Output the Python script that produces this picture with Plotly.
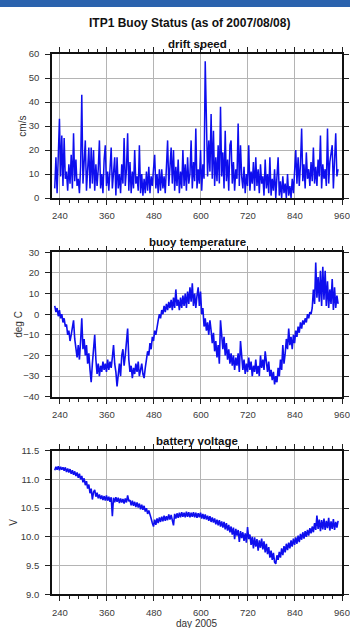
import plotly.graph_objects as go

# ---- data: ITP1 buoy status, sampled every 3 days from day 227 of 2005 ----
day_start = 227
day_step = 3

drift_speed = [
    4, 17, 2, 16, 33, 9, 26, 5, 25, 8,
    11, 3, 14, 6, 18, 4, 27, 7, 16, 5,
    8, 2, 13, 43, 6, 15, 24, 3, 12, 21,
    4, 21, 6, 20, 3, 14, 5, 12, 24, 4,
    10, 2, 16, 22, 5, 11, 3, 13, 21, 4,
    9, 17, 1, 17, 4, 10, 2, 14, 6, 25,
    5, 12, 27, 3, 15, 2, 11, 4, 20, 6,
    9, 3, 22, 2, 10, 1, 8, 2, 11, 3,
    13, 2, 9, 5, 12, 18, 4, 10, 2, 12,
    3, 12, 4, 9, 2, 16, 24, 5, 14, 21,
    6, 20, 3, 13, 5, 16, 2, 11, 4, 20,
    5, 14, 3, 17, 6, 10, 24, 4, 15, 7,
    29, 4, 12, 6, 20, 3, 14, 8, 57, 26,
    9, 24, 11, 35, 8, 28, 5, 17, 7, 22,
    6, 38, 9, 19, 4, 28, 7, 16, 3, 22,
    24, 6, 15, 3, 12, 8, 31, 5, 22, 9,
    4, 13, 2, 10, 5, 22, 3, 11, 6, 15,
    3, 17, 5, 12, 2, 14, 6, 9, 1, 16,
    4, 10, 2, 17, 1, 8, 3, 12, 0, 9,
    17, 1, 7, 0, 9, 2, 6, 0, 10, 1,
    5, 0, 8, 2, 13, 20, 6, 17, 5, 14,
    29, 7, 14, 4, 19, 8, 12, 5, 15, 7,
    21, 6, 13, 5, 16, 9, 26, 4, 14, 8,
    12, 5, 29, 6, 15, 18, 22, 4, 13, 27,
    9, 12,
]

buoy_temperature = [
    4, 1, 3, -1, 2, -2, 0, -4, -2, -6,
    -5, -10, -8, -13, -10, -7, -3, -12, -17, -21,
    -15, -22, -13, -2, -17, -12, -20, -15, -24, -19,
    -27, -33, -24, -18, -10, -22, -29, -24, -30, -25,
    -28, -23, -27, -24, -28, -22, -27, -23, -26, -21,
    -15, -24, -28, -35, -29, -24, -30, -20, -17, -25,
    -20, -12, -7, -22, -28, -25, -31, -26, -29, -24,
    -28, -23, -30, -27, -24, -29, -31, -26, -22, -18,
    -20, -14, -17, -11, -13, -8, -10, -5, -3, 0,
    -2, 2, 0, 4, 1, 5, 2, 6, 3, 7,
    2, 8, 3, 12, 4, 7, 2, 8, 3, 9,
    4, 10, 3, 11, 5, 13, 6, 15, 4, 10,
    3, 9, 13, 4, 11, 0, 3, -6, -2, -8,
    -4, -10, -3, -8, -14, -9, -18, -13, -21, -15,
    -24, -3, -12, -17, -11, -20, -14, -22, -17, -24,
    -19, -25, -20, -27, -21, -25, -19, -28, -13, -22,
    -27, -22, -29, -24, -28, -21, -27, -23, -30, -25,
    -28, -22, -29, -25, -30, -20, -26, -22, -27, -18,
    -24, -28, -23, -30, -27, -32, -28, -34, -30, -33,
    -26, -30, -22, -27, -15, -24, -19, -12, -17, -7,
    -15, -11, -17, -10, -14, -8, -11, -6, -9, -4,
    -7, -3, -5, -2, -4, 0, -2, 1, 0, 3,
    12, 5, 25, 8, 18, 6, 21, 4, 23, 7,
    21, 4, 16, 3, 12, 5, 17, 2, 13, 3,
    9, 5,
]

battery_voltage = [
    11.16, 11.22, 11.17, 11.23, 11.16, 11.22, 11.17, 11.21, 11.15, 11.21,
    11.13, 11.19, 11.12, 11.18, 11.10, 11.16, 11.08, 11.14, 11.06, 11.12,
    11.03, 11.10, 11.00, 11.06, 10.95, 11.02, 10.90, 10.97, 10.84, 10.91,
    10.76, 10.84, 10.65, 10.78, 10.82, 10.70, 10.77, 10.67, 10.74, 10.66,
    10.72, 10.64, 10.71, 10.63, 10.72, 10.63, 10.70, 10.61, 10.69, 10.36,
    10.68, 10.60, 10.69, 10.61, 10.68, 10.59, 10.67, 10.60, 10.66, 10.58,
    10.67, 10.60, 10.72, 10.62, 10.64, 10.55, 10.63, 10.54, 10.61, 10.52,
    10.60, 10.51, 10.58, 10.48, 10.56, 10.47, 10.54, 10.44, 10.50, 10.40,
    10.46, 10.36, 10.32, 10.24, 10.18, 10.30, 10.21, 10.32, 10.24, 10.34,
    10.26, 10.35, 10.27, 10.37, 10.28, 10.36, 10.29, 10.39, 10.30, 10.38,
    10.31, 10.20, 10.40, 10.32, 10.41, 10.33, 10.42, 10.34, 10.43, 10.35,
    10.42, 10.34, 10.44, 10.35, 10.43, 10.34, 10.42, 10.35, 10.43, 10.34,
    10.42, 10.33, 10.41, 10.34, 10.42, 10.32, 10.40, 10.31, 10.39, 10.30,
    10.37, 10.28, 10.36, 10.26, 10.34, 10.25, 10.32, 10.22, 10.30, 10.20,
    10.29, 10.18, 10.27, 10.16, 10.26, 10.13, 10.24, 10.11, 10.21, 10.08,
    10.18, 10.04, 10.16, 9.96, 10.14, 10.02, 10.12, 9.91, 10.10, 9.98,
    10.08, 9.93, 10.06, 9.90, 10.17, 9.96, 10.04, 9.86, 10.00, 9.80,
    9.99, 9.83, 9.96, 9.76, 9.94, 9.81, 9.97, 9.78, 9.92, 9.73,
    9.88, 9.70, 9.82, 9.64, 9.76, 9.60, 9.72, 9.56, 9.53, 9.68,
    9.60, 9.74, 9.64, 9.80, 9.68, 9.84, 9.73, 9.88, 9.77, 9.90,
    9.80, 9.94, 9.83, 9.97, 9.86, 9.99, 9.88, 10.02, 9.91, 10.05,
    9.95, 10.08, 9.97, 10.10, 10.00, 10.12, 10.02, 10.15, 10.06, 10.18,
    10.08, 10.24, 10.12, 10.37, 10.14, 10.30, 10.10, 10.29, 10.13, 10.32,
    10.12, 10.28, 10.15, 10.33, 10.11, 10.27, 10.14, 10.31, 10.12, 10.26,
    10.16, 10.28,
]

panel_titles = ["drift speed", "buoy temperature", "battery voltage"]
y_titles = ["cm/s", "deg C", "V"]
x_tick_values = [240, 360, 480, 600, 720, 840, 960]

days = [day_start + day_step * i for i in range(len(drift_speed))]

# ---- page geometry (pixels) ----
W, H = 350, 628
ML, MR = 52, 8
PW = W - ML - MR
panels_px = [(54, 198), (252.3, 396.7), (450.7, 594.3)]  # top, bottom of each plot box


def py(px):
    return 1 - px / H


def pxx(px):
    return (px - ML) / PW


LINE = "rgb(14,14,238)"
FONT = "Liberation Sans, Arial, Helvetica, sans-serif"
line_widths = [1.5, 1.6, 1.6]

fig = go.Figure()
series = [drift_speed, buoy_temperature, battery_voltage]
for i, vals in enumerate(series):
    suffix = "" if i == 0 else str(i + 1)
    fig.add_trace(go.Scatter(
        x=days, y=vals, mode="lines",
        line=dict(color=LINE, width=line_widths[i]),
        xaxis="x" + suffix, yaxis="y" + suffix,
        showlegend=False, hoverinfo="skip",
    ))

y_ranges = [[0, 60], [-40, 30], [9.0, 11.5]]
y_dticks = [10, 10, 0.5]
y_formats = ["d", "d", ".1f"]

layout = dict(
    width=W, height=H,
    margin=dict(l=ML, r=MR, t=0, b=0, pad=0),
    paper_bgcolor="white", plot_bgcolor="white",
    font=dict(family=FONT, color="#333"),
    showlegend=False,
)

annotations = []
shapes = [dict(type="rect", xref="paper", yref="paper",
               x0=-ML / PW - 0.01, x1=1 + MR / PW + 0.01,
               y0=py(7), y1=1.01, fillcolor="#2b63ae", line=dict(width=0),
               layer="above")]

for i, (top, bot) in enumerate(panels_px):
    suffix = "" if i == 0 else str(i + 1)
    layout["xaxis" + suffix] = dict(
        domain=[0, 1], anchor="y" + suffix, range=[220, 960],
        tickvals=x_tick_values, ticktext=[str(v) for v in x_tick_values],
        ticks="outside", ticklen=5, tickwidth=1, tickcolor="#222",
        minor=dict(dtick=24, tick0=240, ticks="outside", ticklen=3,
                   tickcolor="#222", showgrid=False),
        showgrid=True, gridcolor="#b4b4b4", gridwidth=1,
        showline=True, linecolor="#111", linewidth=1.6, mirror="allticks",
        tickfont=dict(size=9.5, color="#3a3a3a"), ticklabelstandoff=3,
        zeroline=False, fixedrange=True, automargin=False,
    )
    layout["yaxis" + suffix] = dict(
        domain=[py(bot), py(top)], anchor="x" + suffix, range=y_ranges[i],
        dtick=y_dticks[i], tick0=0, tickformat=y_formats[i],
        ticks="outside", ticklen=5, tickwidth=1, tickcolor="#222",
        showgrid=True, gridcolor="#b4b4b4", gridwidth=1,
        showline=True, linecolor="#111", linewidth=1.6, mirror="allticks",
        tickfont=dict(size=9.5, color="#3a3a3a"), ticklabelstandoff=4,
        zeroline=False, fixedrange=True, automargin=False,
    )
    # panel title
    annotations.append(dict(
        text="<b>%s</b>" % panel_titles[i], xref="paper", yref="paper",
        x=0.5, y=py(top - 10), xanchor="center", yanchor="middle",
        showarrow=False, font=dict(size=11.5, color="#111"),
    ))

# y-axis titles
y_title_x = [21.7, 18.3, 13.3]
for i, (top, bot) in enumerate(panels_px):
    annotations.append(dict(
        text=y_titles[i], xref="paper", yref="paper",
        x=pxx(y_title_x[i]), y=py((top + bot) / 2),
        xanchor="center", yanchor="middle", textangle=-90,
        showarrow=False, font=dict(size=10, color="#333"),
    ))

# figure title and x-axis title
annotations.append(dict(
    text="<b>ITP1 Buoy Status (as of 2007/08/08)</b>", xref="paper", yref="paper",
    x=pxx(189.5), y=py(22.5), xanchor="center", yanchor="middle",
    showarrow=False, font=dict(size=12, color="#111"),
))
annotations.append(dict(
    text="day 2005", xref="paper", yref="paper",
    x=pxx(197), y=py(623.5), xanchor="center", yanchor="middle",
    showarrow=False, font=dict(size=10, color="#333"),
))

layout["annotations"] = annotations
layout["shapes"] = shapes
fig.update_layout(**layout)

fig.write_html("out.html", config=dict(displayModeBar=False))
